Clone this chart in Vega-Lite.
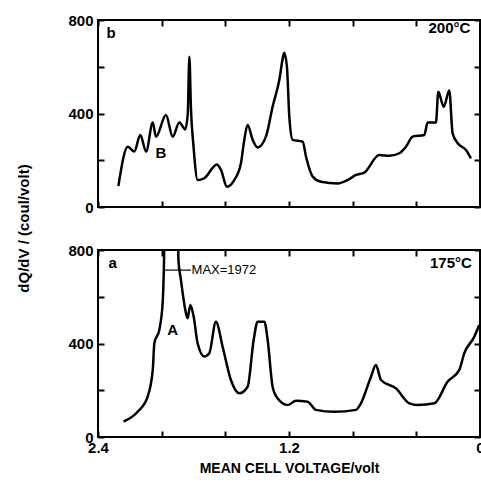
{
  "$schema": "https://vega.github.io/schema/vega-lite/v6.json",
  "padding": {"left": 15, "top": 12, "right": 0, "bottom": 5},
  "bounds": "flush",
  "spacing": 43,
  "datasets": {
    "b": [
      {"V":2.272,"Q":90},{"V":2.213,"Q":258},{"V":2.172,"Q":237},{"V":2.134,"Q":308},{"V":2.098,"Q":237},
      {"V":2.056,"Q":361},{"V":2.036,"Q":301},{"V":1.973,"Q":394},{"V":1.931,"Q":301},{"V":1.889,"Q":362},
      {"V":1.852,"Q":332},{"V":1.836,"Q":400},{"V":1.826,"Q":643},{"V":1.816,"Q":420},{"V":1.800,"Q":260},
      {"V":1.774,"Q":115},{"V":1.732,"Q":123},{"V":1.653,"Q":182},{"V":1.627,"Q":158},{"V":1.590,"Q":87},
      {"V":1.544,"Q":115},{"V":1.502,"Q":187},{"V":1.481,"Q":287},{"V":1.460,"Q":351},{"V":1.428,"Q":287},
      {"V":1.397,"Q":255},{"V":1.345,"Q":301},{"V":1.303,"Q":429},{"V":1.261,"Q":543},{"V":1.238,"Q":640},
      {"V":1.230,"Q":660},{"V":1.213,"Q":600},{"V":1.198,"Q":387},{"V":1.177,"Q":287},{"V":1.114,"Q":279},
      {"V":1.093,"Q":215},{"V":1.051,"Q":130},{"V":0.999,"Q":108},{"V":0.894,"Q":101},{"V":0.832,"Q":115},
      {"V":0.779,"Q":137},{"V":0.727,"Q":147},{"V":0.633,"Q":222},{"V":0.570,"Q":219},{"V":0.507,"Q":230},
      {"V":0.465,"Q":258},{"V":0.423,"Q":301},{"V":0.350,"Q":308},{"V":0.329,"Q":361},{"V":0.277,"Q":361},
      {"V":0.262,"Q":493},{"V":0.228,"Q":429},{"V":0.193,"Q":498},{"V":0.172,"Q":315},{"V":0.140,"Q":273},
      {"V":0.088,"Q":244},{"V":0.057,"Q":208}
    ],
    "a": [
      {"V":2.239,"Q":66},{"V":2.151,"Q":108},{"V":2.088,"Q":173},{"V":2.056,"Q":287},{"V":2.046,"Q":401},
      {"V":2.015,"Q":458},{"V":1.994,"Q":572},{"V":1.985,"Q":760},{"V":1.972,"Q":1500},{"V":1.94,"Q":1972},
      {"V":1.905,"Q":1500},{"V":1.895,"Q":760},{"V":1.879,"Q":672},{"V":1.847,"Q":529},{"V":1.837,"Q":508},
      {"V":1.820,"Q":565},{"V":1.799,"Q":515},{"V":1.774,"Q":401},{"V":1.732,"Q":344},{"V":1.701,"Q":358},
      {"V":1.659,"Q":493},{"V":1.617,"Q":386},{"V":1.565,"Q":244},{"V":1.512,"Q":187},{"V":1.460,"Q":215},
      {"V":1.422,"Q":415},{"V":1.397,"Q":493},{"V":1.355,"Q":493},{"V":1.334,"Q":415},{"V":1.303,"Q":215},
      {"V":1.271,"Q":165},{"V":1.208,"Q":137},{"V":1.156,"Q":155},{"V":1.083,"Q":151},{"V":1.031,"Q":116},
      {"V":0.916,"Q":108},{"V":0.779,"Q":116},{"V":0.748,"Q":144},{"V":0.685,"Q":258},{"V":0.654,"Q":308},
      {"V":0.622,"Q":244},{"V":0.528,"Q":208},{"V":0.444,"Q":144},{"V":0.392,"Q":137},{"V":0.287,"Q":144},
      {"V":0.203,"Q":237},{"V":0.130,"Q":287},{"V":0.099,"Q":358},{"V":0.036,"Q":429},{"V":0.005,"Q":479}
    ],
    "notes_b": [
      {"V":2.318,"Q":744,"t":"b"},{"V":0.192,"Q":766,"t":"200°C"},{"V":2.004,"Q":231,"t":"B"}
    ],
    "notes_a": [
      {"V":2.308,"Q":743,"t":"a"},{"V":0.183,"Q":746,"t":"175°C"},{"V":1.931,"Q":458,"t":"A"}
    ],
    "max_a": [{"V":1.609,"Q":714,"t":"MAX=1972"}],
    "lead_a": [{"V":1.985,"V2":1.816,"Q":714}]
  },
  "vconcat": [
    {
      "width": 382, "height": 187,
      "resolve": {"axis": {"x": "independent", "y": "independent"}},
      "layer": [
        {
          "data": {"name": "b"},
          "mark": {"type": "line", "color": "black", "strokeWidth": 2.5, "interpolate": "monotone", "clip": true},
          "encoding": {
            "x": {"field": "V", "type": "quantitative", "scale": {"domain": [0, 2.4], "reverse": true, "nice": false},
                  "axis": {"orient": "bottom", "values": [0,0.4,0.8,1.2,1.6,2.0,2.4], "labels": false, "title": null}},
            "y": {"field": "Q", "type": "quantitative", "scale": {"domain": [0, 800], "nice": false},
                  "axis": {"orient": "left", "values": [0,200,400,600,800], "labelExpr": "datum.value % 400 == 0 ? datum.label : ''",
                           "title": "dQ/dV / (coul/volt)", "titleX": -75, "titleY": 208, "titleAngle": 270, "titleBaseline": "middle", "titleAlign": "center"}}
          }
        },
        {
          "data": {"name": "notes_b"},
          "mark": {"type": "text", "font": "Liberation Sans", "fontWeight": "bold", "fontSize": 15, "color": "black"},
          "encoding": {
            "x": {"field": "V", "type": "quantitative", "scale": {"domain": [0, 2.4], "reverse": true, "nice": false},
                  "axis": {"orient": "top", "values": [0,0.4,0.8,1.2,1.6,2.0,2.4], "labels": false, "title": null}},
            "y": {"field": "Q", "type": "quantitative", "scale": {"domain": [0, 800], "nice": false},
                  "axis": {"orient": "right", "values": [0,200,400,600,800], "labels": false, "title": null}},
            "text": {"field": "t"}
          }
        }
      ]
    },
    {
      "width": 382, "height": 187,
      "resolve": {"axis": {"x": "independent", "y": "independent"}},
      "layer": [
        {
          "data": {"name": "a"},
          "mark": {"type": "line", "color": "black", "strokeWidth": 2.5, "interpolate": "monotone", "clip": true},
          "encoding": {
            "x": {"field": "V", "type": "quantitative", "scale": {"domain": [0, 2.4], "reverse": true, "nice": false},
                  "axis": {"orient": "bottom", "values": [0,0.4,0.8,1.2,1.6,2.0,2.4], "labelFlush": false, "labelPadding": 9,
                           "labelExpr": "datum.value == 0 ? '0' : (abs(datum.value - 1.2) < 0.01 || abs(datum.value - 2.4) < 0.01) ? format(datum.value, '.1f') : ''",
                           "title": "MEAN CELL VOLTAGE/volt", "titlePadding": 6}},
            "y": {"field": "Q", "type": "quantitative", "scale": {"domain": [0, 800], "nice": false},
                  "axis": {"orient": "left", "values": [0,200,400,600,800], "labelExpr": "datum.value % 400 == 0 ? datum.label : ''", "title": null}}
          }
        },
        {
          "data": {"name": "notes_a"},
          "mark": {"type": "text", "font": "Liberation Sans", "fontWeight": "bold", "fontSize": 15, "color": "black"},
          "encoding": {
            "x": {"field": "V", "type": "quantitative", "scale": {"domain": [0, 2.4], "reverse": true, "nice": false},
                  "axis": {"orient": "top", "values": [0,0.4,0.8,1.2,1.6,2.0,2.4], "labels": false, "title": null}},
            "y": {"field": "Q", "type": "quantitative", "scale": {"domain": [0, 800], "nice": false},
                  "axis": {"orient": "right", "values": [0,200,400,600,800], "labels": false, "title": null}},
            "text": {"field": "t"}
          }
        },
        {
          "data": {"name": "max_a"},
          "mark": {"type": "text", "font": "Liberation Sans", "fontSize": 13, "color": "black"},
          "encoding": {
            "x": {"field": "V", "type": "quantitative", "scale": {"domain": [0, 2.4], "reverse": true, "nice": false}, "axis": null},
            "y": {"field": "Q", "type": "quantitative", "scale": {"domain": [0, 800], "nice": false}, "axis": null},
            "text": {"field": "t"}
          }
        },
        {
          "data": {"name": "lead_a"},
          "mark": {"type": "rule", "color": "black", "strokeWidth": 1.2},
          "encoding": {
            "x": {"field": "V", "type": "quantitative", "scale": {"domain": [0, 2.4], "reverse": true, "nice": false}, "axis": null},
            "x2": {"field": "V2"},
            "y": {"field": "Q", "type": "quantitative", "scale": {"domain": [0, 800], "nice": false}, "axis": null}
          }
        }
      ]
    }
  ],
  "config": {
    "font": "Liberation Sans",
    "view": {"stroke": "black", "strokeWidth": 2},
    "axis": {
      "domain": false, "grid": false,
      "tickColor": "black", "tickSize": -6, "tickWidth": 2,
      "labelFont": "Liberation Sans", "labelFontWeight": "bold", "labelFontSize": 15, "labelColor": "black", "labelPadding": 11,
      "titleFont": "Liberation Sans", "titleFontWeight": "bold", "titleFontSize": 14, "titleColor": "black"
    },
    "axisLeft": {"titleFontSize": 15}
  }
}
